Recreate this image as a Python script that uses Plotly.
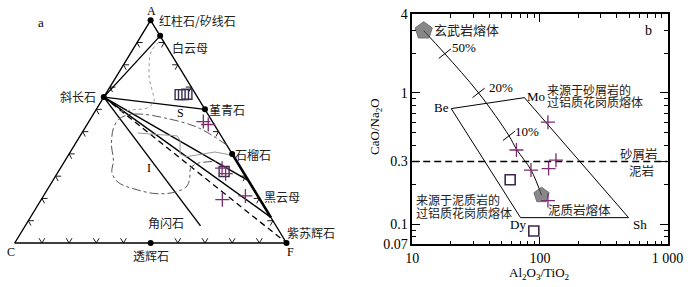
import math
import plotly.graph_objects as go

W, H = 700, 287
CJK = "Noto Sans CJK SC"
SERIF = "Liberation Serif"

# ================= Panel a : ACF ternary (A top, C bottom-left, F bottom-right) =================
# mineral end-members (A, C, F fractions)
min_names = ["红柱石/矽线石", "白云母", "斜长石", "堇青石", "石榴石", "透辉石", "紫苏辉石"]
min_A = [1.00, 0.93, 0.655, 0.60, 0.40, 0.00, 0.00]
min_C = [0.00, 0.00, 0.345, 0.00, 0.00, 0.50, 0.00]
min_F = [0.00, 0.07, 0.000, 0.40, 0.60, 0.50, 1.00]

# solid tie lines from 斜长石 to these compositions
tie_names = ["白云母", "堇青石", "石榴石-黑云母", "黑云母", "角闪石"]
tie_A = [0.93, 0.60, 0.28, 0.115, 0.077]
tie_C = [0.00, 0.00, 0.00, 0.000, 0.278]
tie_F = [0.07, 0.40, 0.72, 0.885, 0.645]
# dashed tie line 斜长石 -> 紫苏辉石 (F apex)
dash_tie_A = [0.655, 0.0]
dash_tie_C = [0.345, 0.0]
dash_tie_F = [0.000, 1.0]
# bold segment of the A-F join: 石榴石 -> 黑云母
bold_A = [0.40, 0.115]
bold_C = [0.00, 0.000]
bold_F = [0.60, 0.885]

# gray dotted boundary (muscovite side)
dot_A = [0.902, 0.860, 0.804, 0.740, 0.685, 0.638, 0.6085, 0.598, 0.5915]
dot_C = [0.019, 0.068, 0.103, 0.135, 0.152, 0.1685, 0.2045, 0.267, 0.3165]
dot_F = [0.079, 0.072, 0.093, 0.125, 0.163, 0.1935, 0.187, 0.135, 0.092]

# gray solid boundary of field S
sb_A = [0.4936, 0.4809, 0.4596, 0.400, 0.3872, 0.3957, 0.4085, 0.3957]
sb_C = [0.3012, 0.1616, 0.1617, 0.1915, 0.1765, 0.1296, 0.0591, 0.0086]
sb_F = [0.2052, 0.3575, 0.3787, 0.4085, 0.4363, 0.4747, 0.5324, 0.5957]

# dash-dot boundary of field I
ib_A = [0.44, 0.519, 0.5617, 0.5787, 0.5745, 0.5532, 0.5149, 0.4426, 0.3702, 0.3149,
        0.2723, 0.2383, 0.2213, 0.2298, 0.2553, 0.2936, 0.3362, 0.3574, 0.366]
ib_C = [0.00, 0.068, 0.1676, 0.2481, 0.2999, 0.3426, 0.3795, 0.4228, 0.4519, 0.4848,
        0.4831, 0.4288, 0.3662, 0.2908, 0.2389, 0.2091, 0.1842, 0.1487, 0.0732]
ib_F = [0.56, 0.413, 0.2707, 0.1732, 0.1256, 0.1042, 0.1056, 0.1346, 0.1779, 0.2003,
        0.2446, 0.3329, 0.4125, 0.4794, 0.5058, 0.4973, 0.4796, 0.4939, 0.5608]

# samples
a_sq_A = [0.666, 0.666, 0.668, 0.321]
a_sq_C = [0.0585, 0.046, 0.0325, 0.069]
a_sq_F = [0.2755, 0.288, 0.2995, 0.610]
a_cr_A = [0.545, 0.532, 0.336, 0.311, 0.2115, 0.1945]
a_cr_C = [0.0335, 0.022, 0.069, 0.0685, 0.0455, 0.139]
a_cr_F = [0.4215, 0.446, 0.595, 0.6205, 0.743, 0.667]

# edge tick fractions
edge_ticks = [0.1, 0.2, 0.3, 0.4, 0.5, 0.6, 0.7, 0.8, 0.9]

# ================= Panel b : CaO/Na2O vs Al2O3/TiO2 =================
mix_x = [12.3, 18.0, 33.1, 57.3, 65.5, 85.1, 103.0]
mix_y = [2.98, 1.99, 1.00, 0.471, 0.372, 0.259, 0.166]
mix_tick_x = [18.0, 33.1, 57.3]
mix_tick_y = [1.99, 1.00, 0.471]
mix_tick_labels = ["50%", "20%", "10%"]

field_names = ["Be", "Mo", "Sh", "Dy"]
field_x = [20.2, 75.7, 495.0, 70.5]
field_y = [0.759, 0.92, 0.112, 0.112]

basalt_melt = (12.3, 2.98)
pelite_melt = (103.0, 0.166)
sand_mud_boundary = 0.3

b_cr_x = [115.6, 65.5, 85.1, 117.0, 133.6, 115.6]
b_cr_y = [0.598, 0.367, 0.258, 0.265, 0.307, 0.151]
b_sq_x = [58.5, 89.6]
b_sq_y = [0.218, 0.0885]

x_ticks = [10, 100, 1000]
x_ticktext = ["10", "100", "1 000"]
y_ticks = [0.07, 0.1, 0.3, 1, 4]
y_ticktext = ["0.07", "0.1", "0.3", "1", "4"]
x_minor = [20, 30, 40, 50, 60, 70, 80, 90, 200, 300, 400, 500, 600, 700, 800, 900]
y_minor = [0.08, 0.09, 0.2, 0.4, 0.5, 0.6, 0.7, 0.8, 0.9, 2, 3]

PURPLE = "#7d2c6f"
DKPURPLE = "#3b2a4c"

# ---------------- geometry helpers ----------------
SX, SY = 281.0, 235.0   # pixel size of the ternary's unit width / height


def tern(A, C, F):
    xs, ys = [], []
    for a, c, f in zip(A, C, F):
        s = a + c + f
        xs.append((f + a / 2.0) / s)
        ys.append(a / s)
    return xs, ys


def P(px, py):
    return px / W, 1 - py / H


fig = go.Figure()

# triangle outline
tx, ty = tern([1, 0, 0, 1], [0, 1, 0, 0], [0, 0, 1, 0])
fig.add_trace(go.Scatter(x=tx, y=ty, mode="lines", line=dict(color="black", width=1.4),
                         xaxis="x", yaxis="y", hoverinfo="skip"))
bx, by = tern(bold_A, bold_C, bold_F)
fig.add_trace(go.Scatter(x=bx, y=by, mode="lines", line=dict(color="black", width=2.6),
                         xaxis="x", yaxis="y", hoverinfo="skip"))

# chevron ticks along the edges
verts = {"A": (0.5, 1.0), "C": (0.0, 0.0), "F": (1.0, 0.0)}
cent = (0.5, 1.0 / 3)
skip = {("A", "C"): [], ("C", "F"): [0.5], ("F", "A"): [0.4, 0.6]}
chx, chy = [], []
for (p0, p1), sk in skip.items():
    x0, y0 = verts[p0]
    x1, y1 = verts[p1]
    dX, dY = (x1 - x0) * SX, (y1 - y0) * SY
    L = math.hypot(dX, dY)
    ux, uy = dX / L, dY / L
    nx, ny = -uy, ux
    mx, my = (x0 + x1) / 2, (y0 + y1) / 2
    if (cent[0] - mx) * SX * nx + (cent[1] - my) * SY * ny < 0:
        nx, ny = -nx, -ny
    for t in edge_ticks:
        if any(abs(t - s) < 1e-6 for s in sk):
            continue
        px_ = x0 + (x1 - x0) * t
        py_ = y0 + (y1 - y0) * t
        for sgn in (1, -1):
            ax_ = px_ + (5 * nx + sgn * 3 * ux) / SX
            ay_ = py_ + (5 * ny + sgn * 3 * uy) / SY
            if sgn == 1:
                chx += [ax_, px_]
                chy += [ay_, py_]
            else:
                chx += [ax_, None]
                chy += [ay_, None]
fig.add_trace(go.Scatter(x=chx, y=chy, mode="lines", line=dict(color="black", width=0.9),
                         xaxis="x", yaxis="y", hoverinfo="skip"))

# tie lines from plagioclase
pl = (min_A[2], min_C[2], min_F[2])
lx, ly = [], []
for a, c, f in zip(tie_A, tie_C, tie_F):
    xx, yy = tern([pl[0], a], [pl[1], c], [pl[2], f])
    lx += xx + [None]
    ly += yy + [None]
fig.add_trace(go.Scatter(x=lx, y=ly, mode="lines", line=dict(color="black", width=1.4),
                         xaxis="x", yaxis="y", hoverinfo="skip"))
dx_, dy_ = tern(dash_tie_A, dash_tie_C, dash_tie_F)
fig.add_trace(go.Scatter(x=dx_, y=dy_, mode="lines", line=dict(color="black", width=1.3, dash="6px,4px"),
                         xaxis="x", yaxis="y", hoverinfo="skip"))

# field boundaries
gx, gy = tern(dot_A, dot_C, dot_F)
fig.add_trace(go.Scatter(x=gx, y=gy, mode="lines", line=dict(color="#9a9a9a", width=1, dash="dot", shape="spline"),
                         xaxis="x", yaxis="y", hoverinfo="skip"))
sx_, sy_ = tern(sb_A, sb_C, sb_F)
fig.add_trace(go.Scatter(x=sx_, y=sy_, mode="lines", line=dict(color="#9a9a9a", width=1),
                         xaxis="x", yaxis="y", hoverinfo="skip"))
ix, iy = tern(ib_A, ib_C, ib_F)
fig.add_trace(go.Scatter(x=ix, y=iy, mode="lines", line=dict(color="#555555", width=1, dash="dashdot", shape="spline"),
                         xaxis="x", yaxis="y", hoverinfo="skip"))

# mineral dots
mx_, my_ = tern(min_A, min_C, min_F)
fig.add_trace(go.Scatter(x=mx_, y=my_, mode="markers", marker=dict(color="black", size=6),
                         xaxis="x", yaxis="y", cliponaxis=False, hoverinfo="skip"))

# samples in a
qx, qy = tern(a_sq_A, a_sq_C, a_sq_F)
fig.add_trace(go.Scatter(x=qx, y=qy, mode="markers",
                         marker=dict(symbol="square-open", size=10, color=DKPURPLE, line=dict(color=DKPURPLE, width=1.4)),
                         xaxis="x", yaxis="y", cliponaxis=False, hoverinfo="skip"))
cx_, cy_ = tern(a_cr_A, a_cr_C, a_cr_F)
fig.add_trace(go.Scatter(x=cx_, y=cy_, mode="markers",
                         marker=dict(symbol="cross-thin-open", size=10, color=PURPLE, line=dict(color=PURPLE, width=1.3)),
                         xaxis="x", yaxis="y", cliponaxis=False, hoverinfo="skip"))

# ---------------- panel b traces ----------------
fig.add_trace(go.Scatter(x=[10, 1000], y=[sand_mud_boundary] * 2, mode="lines",
                         line=dict(color="black", width=1.5, dash="7px,4px"), xaxis="x2", yaxis="y2", hoverinfo="skip"))
fig.add_trace(go.Scatter(x=field_x + field_x[:1], y=field_y + field_y[:1], mode="lines",
                         line=dict(color="black", width=1), xaxis="x2", yaxis="y2", hoverinfo="skip"))
fig.add_trace(go.Scatter(x=mix_x, y=mix_y, mode="lines", line=dict(color="black", width=1, shape="spline"),
                         xaxis="x2", yaxis="y2", hoverinfo="skip"))
fig.add_trace(go.Scatter(x=mix_tick_x, y=mix_tick_y, mode="markers",
                         marker=dict(symbol="line-ew", size=11, angle=-38, color="black", line=dict(color="black", width=1)),
                         xaxis="x2", yaxis="y2", cliponaxis=False, hoverinfo="skip"))
fig.add_trace(go.Scatter(x=[basalt_melt[0], pelite_melt[0]], y=[basalt_melt[1], pelite_melt[1]], mode="markers",
                         marker=dict(symbol="pentagon", size=[18, 16], color="#555555", line=dict(color="#333333", width=1)),
                         xaxis="x2", yaxis="y2", cliponaxis=False, hoverinfo="skip"))
fig.add_trace(go.Scatter(x=b_sq_x, y=b_sq_y, mode="markers",
                         marker=dict(symbol="square-open", size=10, color=DKPURPLE, line=dict(color=DKPURPLE, width=1.6)),
                         xaxis="x2", yaxis="y2", cliponaxis=False, hoverinfo="skip"))
fig.add_trace(go.Scatter(x=b_cr_x, y=b_cr_y, mode="markers",
                         marker=dict(symbol="cross-thin-open", size=10, color=PURPLE, line=dict(color=PURPLE, width=1.3)),
                         xaxis="x2", yaxis="y2", cliponaxis=False, hoverinfo="skip"))

# ---------------- annotations ----------------
anns = []


def ann(text, px, py, anchor="left", size=12, family=CJK, angle=0, color="#222222"):
    x, y = P(px, py)
    anns.append(dict(text=text, x=x, y=y, xref="paper", yref="paper", xanchor=anchor, yanchor="middle",
                     showarrow=False, textangle=angle, borderpad=0, borderwidth=0,
                     font=dict(family=family, size=size, color=color)))


# panel a
ann("a", 35, 16, "center", 13, SERIF, color="black")
ann("A", 149, 4, "center", 12, SERIF, color="black")
ann(min_names[0], 157, 14)
ann(min_names[1], 171, 43)
ann(min_names[2], 92, 94.5, "right")
ann(min_names[3], 209, 108.5)
ann("S", 179, 112, "center", 12, SERIF, color="black")
ann(min_names[4], 236, 156)
ann("I", 146.5, 170, "center", 12, SERIF, color="black")
ann("黑云母", 266, 200)
ann("角闪石", 146, 227.5)
ann(min_names[6], 289, 238)
ann("F", 293, 258, "center", 12, SERIF, color="black")
ann("C", 4, 258, "center", 12, SERIF, color="black")
ann(min_names[5], 148.5, 262, "center")

# panel b
ann("玄武岩熔体", 442, 24, "left", 13)
for lab, px_, py_ in zip(mix_tick_labels, [460, 498, 525], [43, 85, 131]):
    ann(lab, px_, py_, "left", 13, SERIF, color="black")
ann(field_names[0], 457, 106, "right", 13, SERIF, color="black")
ann(field_names[1], 538, 94, "left", 13, SERIF, color="black")
ann(field_names[2], 654, 229, "center", 13, SERIF, color="black")
ann(field_names[3], 528, 230, "center", 13, SERIF, color="black")
ann("来源于砂屑岩的", 558, 87, "left", 12)
ann("过铝质花岗质熔体", 558, 100, "left", 12)
ann("砂屑岩", 673, 155, "right", 12.5)
ann("泥岩", 669, 173, "right", 12.5)
ann("来源于泥质岩的", 423, 203, "left", 12)
ann("过铝质花岗质熔体", 423, 216.5, "left", 12)
ann("泥质岩熔体", 559, 214, "left", 12.5)
ann("b", 663, 25, "center", 14, SERIF, color="black")
ann("Al<sub>2</sub>O<sub>3</sub>/TiO<sub>2</sub>", 551, 281, "center", 13, SERIF, color="black")
ann("CaO/Na<sub>2</sub>O", 381, 126, "center", 13, SERIF, angle=-90, color="black")

b_left, b_right, b_top, b_bot = 419, 683, 7.3, 250.5

axis_common = dict(type="log", showline=True, linecolor="black", linewidth=1.5, mirror="allticks",
                   ticks="inside", ticklen=8, tickwidth=1, tickcolor="black", showgrid=False, zeroline=False,
                   tickmode="array", tickfont=dict(family=SERIF, size=14, color="black"),
                   fixedrange=True)

fig.update_layout(
    width=W, height=H, margin=dict(l=0, r=0, t=0, b=0),
    paper_bgcolor="white", plot_bgcolor="rgba(0,0,0,0)", showlegend=False,
    xaxis=dict(domain=[0, 0.5], range=[-8 / SX, 342 / SX], visible=False, fixedrange=True),
    yaxis=dict(domain=[0, 1], range=[-38 / SY, 249 / SY], visible=False, fixedrange=True),
    xaxis2=dict(domain=[b_left / W, b_right / W], range=[1, 3], anchor="y2",
                tickvals=x_ticks, ticktext=x_ticktext,
                minor=dict(ticks="inside", ticklen=4, tickwidth=1, tickcolor="black", tickmode="array",
                           tickvals=x_minor, showgrid=False),
                **axis_common),
    yaxis2=dict(domain=[1 - b_bot / H, 1 - b_top / H], range=[math.log10(0.07), math.log10(4)], anchor="x2",
                tickvals=y_ticks, ticktext=y_ticktext,
                minor=dict(ticks="inside", ticklen=4, tickwidth=1, tickcolor="black", tickmode="array",
                           tickvals=y_minor, showgrid=False),
                **axis_common),
    annotations=anns,
)

fig.write_html("out.html", config={"displayModeBar": False},
               post_script="document.body.style.margin='0';document.body.style.overflow='hidden';")
